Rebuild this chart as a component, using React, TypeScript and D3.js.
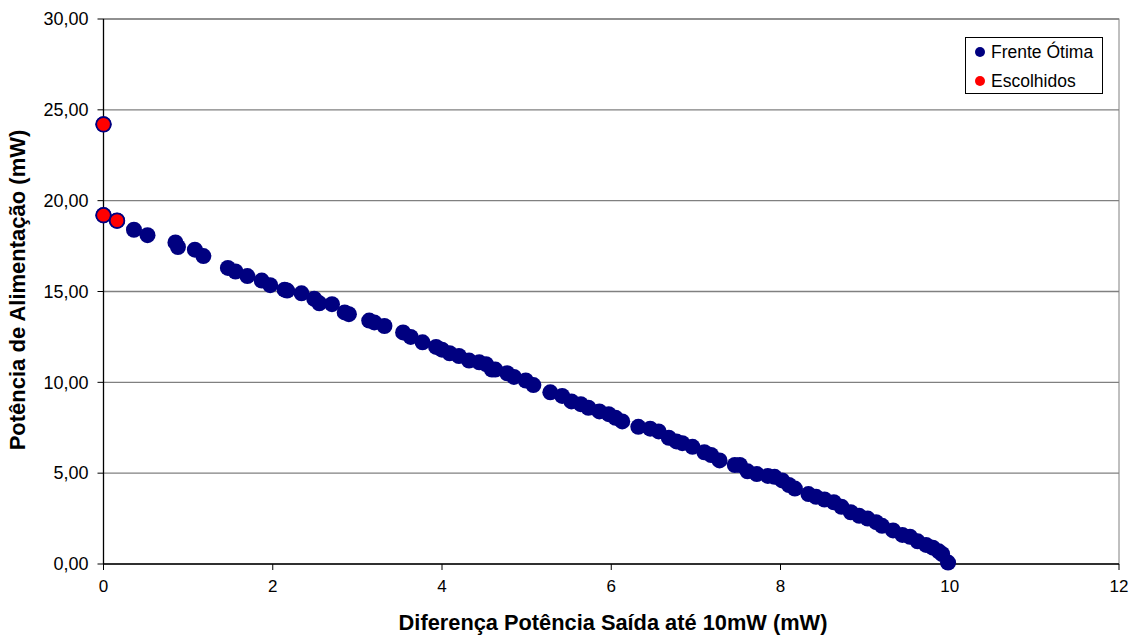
import React from "react";
import * as d3 from "d3";

const frenteX = [0, 0, 0.16, 0.36, 0.52, 0.85, 0.88, 1.08, 1.18, 1.47, 1.56, 1.7, 1.87, 1.97, 2.14, 2.17, 2.34, 2.49, 2.55, 2.7, 2.85, 2.9, 3.14, 3.2, 3.32, 3.54, 3.63, 3.77, 3.93, 4.0, 4.09, 4.2, 4.32, 4.44, 4.52, 4.59, 4.63, 4.77, 4.85, 4.99, 5.08, 5.28, 5.42, 5.53, 5.64, 5.73, 5.86, 5.97, 6.05, 6.13, 6.32, 6.46, 6.56, 6.68, 6.77, 6.84, 6.96, 7.1, 7.18, 7.28, 7.46, 7.52, 7.61, 7.72, 7.85, 7.93, 8.02, 8.1, 8.17, 8.33, 8.42, 8.52, 8.63, 8.72, 8.83, 8.93, 9.03, 9.13, 9.2, 9.33, 9.44, 9.53, 9.62, 9.72, 9.8, 9.87, 9.91, 9.98];
const frenteY = [24.2, 19.2, 18.9, 18.4, 18.1, 17.7, 17.45, 17.3, 16.95, 16.3, 16.1, 15.85, 15.6, 15.35, 15.1, 15.05, 14.9, 14.6, 14.35, 14.3, 13.85, 13.75, 13.4, 13.3, 13.1, 12.75, 12.5, 12.2, 11.95, 11.8, 11.6, 11.45, 11.2, 11.1, 11.0, 10.7, 10.7, 10.5, 10.3, 10.1, 9.85, 9.45, 9.25, 8.95, 8.8, 8.6, 8.4, 8.25, 8.05, 7.85, 7.55, 7.45, 7.3, 6.95, 6.75, 6.65, 6.45, 6.15, 6.0, 5.7, 5.45, 5.45, 5.1, 4.95, 4.85, 4.8, 4.6, 4.35, 4.15, 3.85, 3.7, 3.55, 3.4, 3.15, 2.85, 2.65, 2.5, 2.3, 2.1, 1.85, 1.6, 1.5, 1.25, 1.05, 0.9, 0.7, 0.55, 0.08];
const escolhidosX = [0, 0, 0.16];
const escolhidosY = [24.2, 19.2, 18.9];
const xTicks = [0, 2, 4, 6, 8, 10, 12];
const yTicks = [0, 5, 10, 15, 20, 25, 30];
const seriesNames = ["Frente Ótima", "Escolhidos"];

const W = 1132, H = 636;
const L = 103.5, R = 1119, T = 19, B = 564;
const FONT = "Arial, 'Liberation Sans', sans-serif";

export default function App() {
  const x = d3.scaleLinear().domain([0, 12]).range([L, R]);
  const y = d3.scaleLinear().domain([0, 30]).range([B, T]);
  const fmt = (v: number) => d3.format(".2f")(v).replace(".", ",");
  const navy = "#000080";
  return (
    <svg width={W} height={H} style={{ position: "absolute", left: 0, top: 0 }} fontFamily={FONT}>
      <rect x={0} y={0} width={W} height={H} fill="#fff" />
      <rect x={L} y={T} width={R - L} height={B - T} fill="none" stroke="#808080" strokeWidth={1} />
      {yTicks.map((t) => (
        <g key={"y" + t}>
          {t > 0 && <line x1={L} x2={R} y1={y(t)} y2={y(t)} stroke="#808080" strokeWidth={1.3} />}
          <line x1={L - 6} x2={L} y1={y(t)} y2={y(t)} stroke="#000" />
          <text x={L - 15} y={y(t)} dy="0.35em" fontSize={18} textAnchor="end" fill="#000">{fmt(t)}</text>
        </g>
      ))}
      {xTicks.map((t) => (
        <g key={"x" + t}>
          <line x1={x(t)} x2={x(t)} y1={B} y2={B + 6} stroke="#000" />
          <text x={x(t)} y={B + 28} fontSize={17} textAnchor="middle" fill="#000">{t}</text>
        </g>
      ))}
      <line x1={L} x2={R} y1={B} y2={B} stroke="#000" strokeWidth={1.3} />
      <line x1={L} x2={L} y1={T} y2={B} stroke="#000" strokeWidth={1.3} />
      {frenteX.map((v, i) => (
        <circle key={"f" + i} cx={x(v)} cy={y(frenteY[i])} r={8} fill={navy} />
      ))}
      {escolhidosX.map((v, i) => (
        <circle key={"e" + i} cx={x(v)} cy={y(escolhidosY[i])} r={7.3} fill="#ff0000" stroke={navy} strokeWidth={1.8} />
      ))}
      <rect x={965.5} y={37.5} width={137} height={56} fill="#fff" stroke="#000" strokeWidth={1} />
      <circle cx={980} cy={52} r={5} fill={navy} />
      <text x={991} y={52} dy="0.35em" fontSize={17.5} fill="#000">{seriesNames[0]}</text>
      <circle cx={980} cy={81} r={5} fill="#ff0000" />
      <text x={991} y={81} dy="0.35em" fontSize={17.5} fill="#000">{seriesNames[1]}</text>
      <text x={613} y={630} fontSize={21.8} fontWeight="bold" textAnchor="middle" fill="#000">
        Diferença Potência Saída até 10mW (mW)
      </text>
      <text transform={`translate(25,290) rotate(-90)`} fontSize={22} fontWeight="bold" textAnchor="middle" fill="#000">
        Potência de Alimentação (mW)
      </text>
    </svg>
  );
}
